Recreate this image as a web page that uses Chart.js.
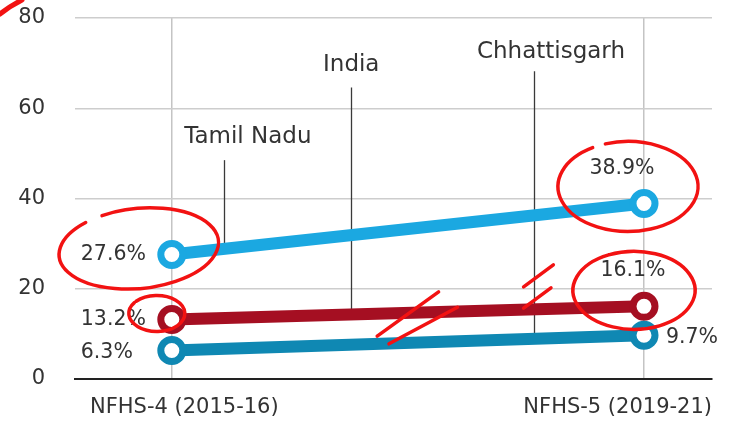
<!DOCTYPE html>
<html lang="en">
<head>
<meta charset="UTF-8">
<title>NFHS trend chart</title>
<script src="https://cdn.jsdelivr.net/npm/chart.js"></script>
<style>
    * { margin: 0; padding: 0; box-sizing: border-box; }
    body { background: #fff; width: 730px; height: 421px; overflow: hidden; }
    .chart-box { width: 730px; height: 421px; }
</style>
</head>
<body>
<div class="chart-box"><canvas id="trendChart" width="730" height="421"></canvas></div>
<script>
// data
const rounds = ['NFHS-4 (2015-16)', 'NFHS-5 (2019-21)'];
const seriesNames = ['Tamil Nadu', 'India', 'Chhattisgarh'];
const tamilNadu = [27.6, 38.9];
const india = [13.2, 16.1];
const chhattisgarh = [6.3, 9.7];
const yTicks = [0, 20, 40, 60, 80];

const FONT = '"DejaVu Sans", "Open Sans", sans-serif';
const TEXT = '#333';
const colors = ['#1ba8e1', '#a50f22', '#0f88b3'];

// where the value labels sit around each point (px offsets)
const labelSpots = [
    [{ dx: -91, dy: 0, align: 'left' }, { dx: -22, dy: -35, align: 'center' }],
    [{ dx: -91, dy: 0, align: 'left' }, { dx: -11, dy: -36, align: 'center' }],
    [{ dx: -91, dy: 2, align: 'left' }, { dx: 22, dy: 2, align: 'left' }]
];
// callout labels: x along the line (0..1), label height in axis units
const callouts = [
    { at: 0.111, textAt: 0.161, textY: 53.6, lineTop: 48.5 },
    { at: 0.379, textAt: 0.38, textY: 69.5, lineTop: 64.6 },
    { at: 0.768, textAt: 0.803, textY: 72.4, lineTop: 68.2 }
];

const allSeries = [tamilNadu, india, chhattisgarh];

const datasets = allSeries.map((vals, i) => ({
    label: seriesNames[i],
    data: vals.map((v, j) => ({ x: j, y: v })),
    borderColor: colors[i],
    borderWidth: 12,
    pointRadius: 11,
    pointBorderWidth: 7,
    pointBackgroundColor: '#fff',
    pointBorderColor: colors[i],
    tension: 0
})).reverse(); // draw light blue on top

function seriesIndex(ds) { return seriesNames.indexOf(ds.label); }

const calloutPlugin = {
    id: 'callouts',
    beforeDatasetsDraw(chart) {
        const ctx = chart.ctx, x = chart.scales.x, y = chart.scales.y;
        ctx.save();
        ctx.strokeStyle = '#3a3a3a';
        ctx.lineWidth = 1.3;
        ctx.fillStyle = TEXT;
        ctx.font = '23px ' + FONT;
        ctx.textAlign = 'center';
        ctx.textBaseline = 'middle';
        callouts.forEach((c, i) => {
            const vals = allSeries[i];
            const v = vals[0] + (vals[1] - vals[0]) * c.at;
            const px = Math.round(x.getPixelForValue(c.at)) + 0.5;
            ctx.beginPath();
            ctx.moveTo(px, y.getPixelForValue(c.lineTop));
            ctx.lineTo(px, y.getPixelForValue(v));
            ctx.stroke();
            ctx.fillText(seriesNames[i], x.getPixelForValue(c.textAt), y.getPixelForValue(c.textY));
        });
        ctx.restore();
    },
    afterDatasetsDraw(chart) {
        const ctx = chart.ctx;
        ctx.save();
        ctx.fillStyle = TEXT;
        ctx.font = '20.5px ' + FONT;
        ctx.textBaseline = 'middle';
        chart.data.datasets.forEach((ds, k) => {
            const i = seriesIndex(ds);
            chart.getDatasetMeta(k).data.forEach((pt, j) => {
                const s = labelSpots[i][j];
                ctx.textAlign = s.align;
                ctx.fillText(allSeries[i][j].toFixed(1) + '%', pt.x + s.dx, pt.y + s.dy);
            });
        });
        // category labels under the axis
        const a = chart.chartArea;
        ctx.font = '21px ' + FONT;
        ctx.textAlign = 'left';
        ctx.fillText(rounds[0], a.left + 15, a.bottom + 29);
        ctx.textAlign = 'right';
        ctx.fillText(rounds[1], a.right, a.bottom + 29);
        ctx.restore();
    }
};

// red hand markup over the picture
const markupPlugin = {
    id: 'markup',
    afterDraw(chart) {
        const ctx = chart.ctx, x = chart.scales.x, y = chart.scales.y;
        const P = (vx, vy) => [x.getPixelForValue(vx), y.getPixelForValue(vy)];
        ctx.save();
        ctx.strokeStyle = '#f21212';
        ctx.lineWidth = 3.5;
        ctx.lineCap = 'round';
        const ring = (vx, vy, dx, dy, rx, ry, rot, a0, a1) => {
            const [cx, cy] = P(vx, vy);
            ctx.beginPath();
            ctx.ellipse(cx + dx, cy + dy, rx, ry, rot, a0, a1);
            ctx.stroke();
        };
        ring(0, tamilNadu[0], -33, -6, 80, 40, -0.1, -2.0, -2.0 + Math.PI * 2 - 0.25);
        ring(0, india[0], -15, -6, 28, 18, 0, -2.4, -2.4 + Math.PI * 2 - 0.1);
        ring(1, tamilNadu[1], -16, -17, 70, 45, 0, -1.9, -1.9 + Math.PI * 2 - 0.2);
        ring(1, india[1], -10, -16, 61, 39, 0, -2.0, -2.0 + Math.PI * 2 + 0.3);
        const slash = (x1, y1, x2, y2) => {
            const a = P(x1, y1), b = P(x2, y2);
            ctx.beginPath();
            ctx.moveTo(a[0], a[1]);
            ctx.lineTo(b[0], b[1]);
            ctx.stroke();
        };
        slash(0.435, 9.5, 0.565, 19.3);
        slash(0.46, 7.8, 0.605, 15.9);
        slash(0.745, 20.4, 0.808, 25.3);
        slash(0.745, 15.7, 0.803, 20.2);
        // corner stroke
        ctx.lineWidth = 5;
        ctx.beginPath();
        ctx.moveTo(0, 14);
        ctx.quadraticCurveTo(10, 6, 22, 0);
        ctx.stroke();
        ctx.restore();
    }
};

new Chart(document.getElementById('trendChart'), {
    type: 'line',
    data: { datasets: datasets },
    options: {
        responsive: false,
        devicePixelRatio: 1,
        animation: false,
        layout: { padding: { top: 18, right: 10, left: 0, bottom: 0 } },
        plugins: { legend: { display: false }, tooltip: { enabled: false } },
        scales: {
            x: {
                type: 'linear',
                min: -0.205,
                max: 1.144,
                afterBuildTicks: s => { s.ticks = [{ value: 0 }, { value: 1 }]; },
                afterFit: s => { s.height = 42; },
                ticks: { display: false },
                grid: { color: '#c4c4c4', lineWidth: 1.5, drawTicks: false },
                border: { color: '#222', width: 2 }
            },
            y: {
                min: 0,
                max: 80,
                afterBuildTicks: s => { s.ticks = yTicks.map(v => ({ value: v })); },
                afterFit: s => { s.width = 75; },
                ticks: { color: TEXT, padding: 2, font: { family: FONT, size: 21 } },
                grid: { color: '#cdcdcd', lineWidth: 1.5, drawTicks: true, tickLength: 28, tickColor: 'rgba(0,0,0,0)' },
                border: { display: false }
            }
        }
    },
    plugins: [calloutPlugin, markupPlugin]
});
</script>
</body>
</html>
